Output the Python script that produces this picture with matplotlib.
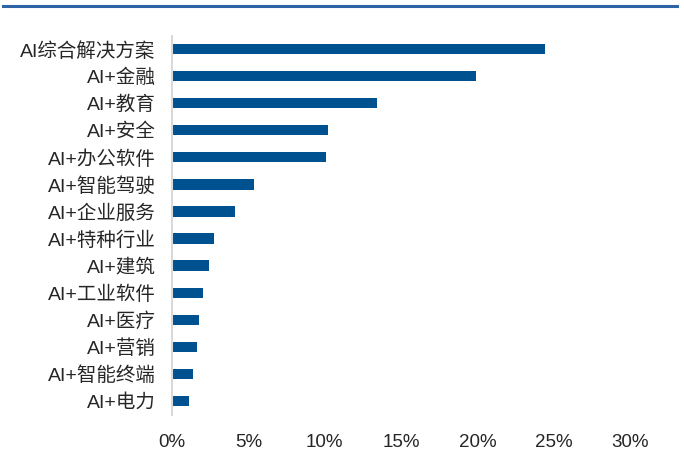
import matplotlib
matplotlib.use("Agg")
import matplotlib.pyplot as plt
from matplotlib.lines import Line2D
from matplotlib.ticker import FuncFormatter

plt.rcParams['font.family'] = ['Liberation Sans', 'Noto Sans CJK SC', 'DejaVu Sans']

categories = ["AI综合解决方案", "AI+金融", "AI+教育", "AI+安全", "AI+办公软件", "AI+智能驾驶",
              "AI+企业服务", "AI+特种行业", "AI+建筑", "AI+工业软件", "AI+医疗", "AI+营销",
              "AI+智能终端", "AI+电力"]
values = [24.4, 19.9, 13.4, 10.2, 10.1, 5.35, 4.15, 2.75, 2.4, 2.05, 1.8, 1.65, 1.35, 1.1]
xticks = [0, 5, 10, 15, 20, 25, 30]

fig = plt.figure(figsize=(6.84, 4.55), dpi=100)
ax = fig.add_axes([172/684, 1-414.5/455, (630-172)/684, (414.5-35.5)/455])

pos = list(range(len(categories)))
ax.barh(pos, values, height=0.38, color="#00518f")
ax.set_ylim(len(categories)-0.5, -0.5)
ax.set_xlim(0, 30)
ax.set_yticks(pos)
ax.set_yticklabels(categories, fontsize=14, color="#262626")
ax.set_xticks(xticks)
ax.xaxis.set_major_formatter(FuncFormatter(lambda v, p: f"{int(v)}%"))
ax.tick_params(axis='x', labelsize=13.5, labelcolor="#262626", length=0, pad=14)
ax.tick_params(axis='y', length=0, pad=12)
for s in ["top", "right", "bottom"]:
    ax.spines[s].set_visible(False)
ax.spines["left"].set_color("#d9d9d9")
ax.spines["left"].set_linewidth(1.5)

fig.add_artist(Line2D([3/684, 677/684], [1-6/455, 1-6/455], transform=fig.transFigure,
                      color="#2e63a6", linewidth=2.2))

fig.savefig("out.png", dpi=100)
